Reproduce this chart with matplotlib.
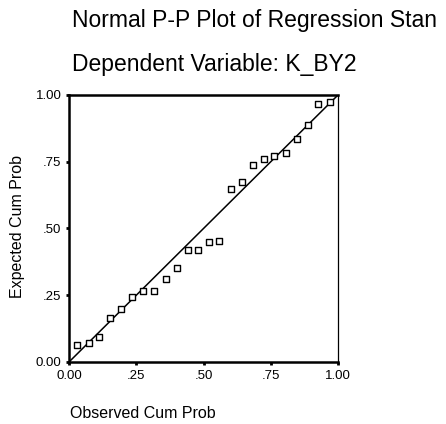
import matplotlib.pyplot as plt
import numpy as np

plt.rcParams['font.family'] = ['Liberation Sans', 'DejaVu Sans']

# observed vs expected cumulative probabilities
observed = [0.031, 0.074, 0.112, 0.152, 0.193, 0.235, 0.274, 0.317, 0.359, 0.400,
            0.441, 0.481, 0.522, 0.559, 0.602, 0.642, 0.683, 0.726, 0.763, 0.807,
            0.846, 0.887, 0.927, 0.970]
expected = [0.064, 0.070, 0.095, 0.164, 0.197, 0.245, 0.267, 0.267, 0.310, 0.353,
            0.418, 0.418, 0.448, 0.453, 0.647, 0.673, 0.739, 0.760, 0.772, 0.783,
            0.836, 0.888, 0.965, 0.973]
ticks = [0.0, 0.25, 0.5, 0.75, 1.0]
tick_labels = ['0.00', '.25', '.50', '.75', '1.00']

fig = plt.figure(figsize=(4.46, 4.24), dpi=100)
ax = fig.add_axes([69 / 446, 62 / 424, 269 / 446, 267 / 424])

ax.plot([0, 1], [0, 1], color='black', lw=1.1, zorder=2)
ax.scatter(observed, expected, marker='s', s=24, facecolors='white',
           edgecolors='black', linewidths=1.0, zorder=3)

ax.set_xlim(0, 1)
ax.set_ylim(0, 1)
ax.set_xticks(ticks)
ax.set_xticklabels(tick_labels)
ax.set_yticks(ticks)
ax.set_yticklabels(tick_labels)
ax.tick_params(direction='out', length=2.5, width=2, labelsize=9.5, pad=3)

for side in ['left', 'top', 'bottom']:
    ax.spines[side].set_linewidth(1.8)
ax.spines['right'].set_linewidth(0.9)

fig.text(72 / 446, 1 - 20 / 424, 'Normal P-P Plot of Regression Stan',
         ha='left', va='center', fontsize=16.5)
fig.text(72 / 446, 1 - 64 / 424, 'Dependent Variable: K_BY2',
         ha='left', va='center', fontsize=16.5)

fig.text(18 / 446, 1 - 226 / 424, 'Expected Cum Prob', rotation=90,
         ha='center', va='center', fontsize=11.5)
fig.text(70 / 446, 1 - 414 / 424, 'Observed Cum Prob',
         ha='left', va='center', fontsize=11.5)

fig.savefig('out.png', dpi=100)
